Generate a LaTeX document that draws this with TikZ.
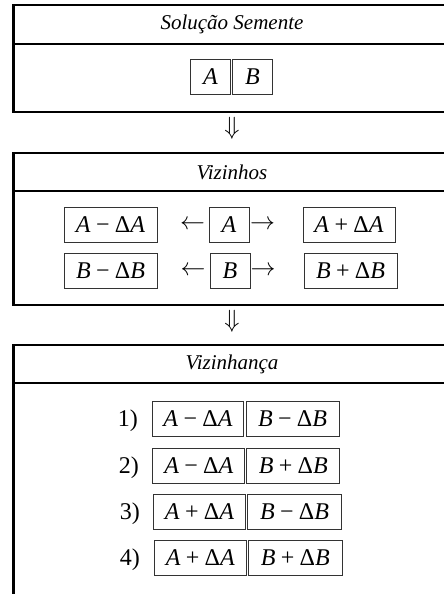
\documentclass[tikz,border=0pt]{standalone}
\usepackage{fontspec}
\setmainfont{Liberation Serif}
\newcommand{\mi}[1]{\textit{#1}}
\newcommand{\bop}[1]{\hspace{0.22em}#1\hspace{0.22em}}
\newcommand{\dl}{{\upshape Δ}}
\begin{document}
\begin{tikzpicture}[x=1pt,y=-1pt,
  frameline/.style={line width=2.7pt,line cap=rect,line join=miter},
  cell/.style={draw=black!80,line width=0.9pt,minimum height=35pt,inner sep=0pt,
    font=\fontsize{24}{28}\selectfont},
  titletext/.style={font=\itshape\fontsize{21}{25}\selectfont,inner sep=0pt},
  sym/.style={font=\fontsize{25}{28}\selectfont,inner sep=0pt},
  dsym/.style={font=\fontsize{31}{34}\selectfont,inner sep=0pt},
  lbl/.style={font=\fontsize{24}{28}\selectfont,inner sep=0pt,anchor=base east}]
\useasboundingbox (0,0) rectangle (444,594);
\clip (0,0) rectangle (444,594);
% frames
\draw[frameline] (470,5) -- (13.7,5) -- (13.7,112) -- (470,112);
\draw[frameline] (13.7,44) -- (470,44);
\draw[frameline] (470,153) -- (13.7,153) -- (13.7,305) -- (470,305);
\draw[frameline] (13.7,191) -- (470,191);
\draw[frameline] (470,345) -- (13.7,345) -- (13.7,600);
\draw[frameline] (13.7,383) -- (470,383);
% titles
\node[titletext] (t1) at (232,24) {Solução Semente};
\node[titletext] (t2) at (232,172) {Vizinhos};
\node[titletext] (t3) at (232,364) {Vizinhança};
% seed
\node[cell,minimum width=40pt] (sa) at (210.5,76.5) {\mi{A}};
\node[cell,minimum width=40pt] (sb) at (252.5,76.5) {\mi{B}};
\node[dsym] (d1) at (232,128.5) {$\Downarrow$};
% neighbours
\node[cell,minimum width=93pt] (am) at (110.5,224.5) {\mi{A}\bop{−}\dl\mi{A}};
\node[sym] (la) at (192.5,224.5) {$\leftarrow$};
\node[cell,minimum width=40pt] (a) at (229,224.5) {\mi{A}};
\node[sym] (ra) at (262.5,224.5) {$\rightarrow$};
\node[cell,minimum width=92pt] (ap) at (349,224.5) {\mi{A}\bop{+}\dl\mi{A}};
\node[cell,minimum width=93pt] (bm) at (110.5,271) {\mi{B}\bop{−}\dl\mi{B}};
\node[sym] (lb) at (193,271) {$\leftarrow$};
\node[cell,minimum width=40pt] (b) at (230,271) {\mi{B}};
\node[sym] (rb) at (263,271) {$\rightarrow$};
\node[cell,minimum width=93pt] (bp) at (350.5,271) {\mi{B}\bop{+}\dl\mi{B}};
\node[dsym] (d2) at (232,321) {$\Downarrow$};
% neighbourhood
\node[cell,minimum width=91pt] (n1a) at (198,419) {\mi{A}\bop{−}\dl\mi{A}};
\node[cell,minimum width=93pt] (n1b) at (292.5,419) {\mi{B}\bop{−}\dl\mi{B}};
\node[cell,minimum width=92pt] (n2a) at (198.8,465.5) {\mi{A}\bop{−}\dl\mi{A}};
\node[cell,minimum width=93pt] (n2b) at (293.3,465.5) {\mi{B}\bop{+}\dl\mi{B}};
\node[cell,minimum width=92pt] (n3a) at (199.5,511.5) {\mi{A}\bop{+}\dl\mi{A}};
\node[cell,minimum width=94pt] (n3b) at (294.5,511.5) {\mi{B}\bop{−}\dl\mi{B}};
\node[cell,minimum width=92pt] (n4a) at (200.3,557.5) {\mi{A}\bop{+}\dl\mi{A}};
\node[cell,minimum width=94pt] (n4b) at (295.3,557.5) {\mi{B}\bop{+}\dl\mi{B}};
\coordinate (lx1) at (138,0);
\coordinate (lx2) at (139,0);
\coordinate (lx3) at (140,0);
\node[lbl] (n1) at (n1a.base -| lx1) {1)};
\node[lbl] (n2) at (n2a.base -| lx2) {2)};
\node[lbl] (n3) at (n3a.base -| lx3) {3)};
\node[lbl] (n4) at (n4a.base -| lx3) {4)};
\end{tikzpicture}
\end{document}
